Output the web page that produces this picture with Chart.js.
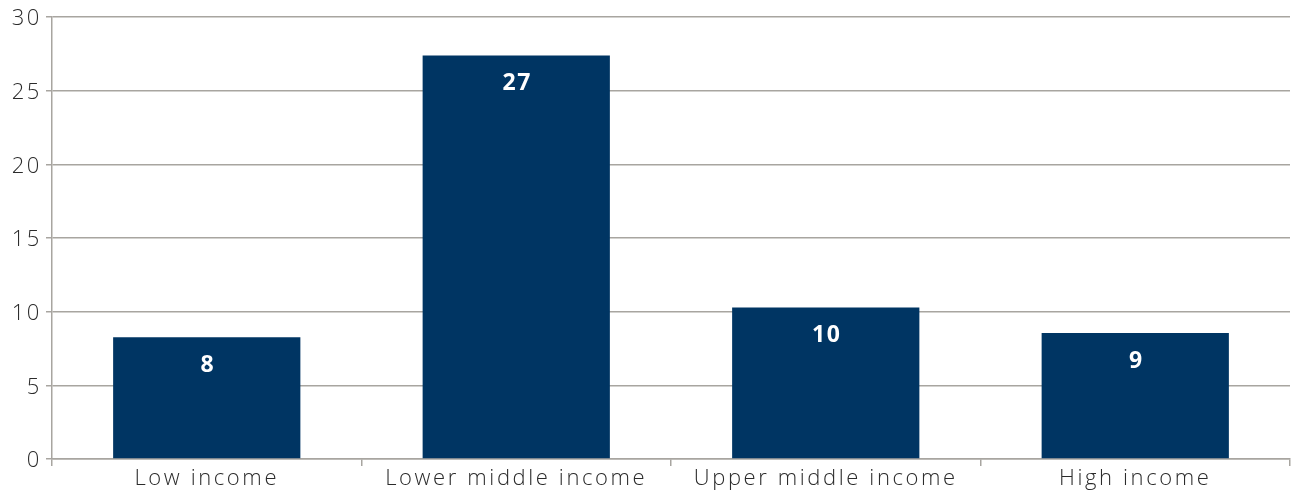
<!DOCTYPE html>
<html><head><meta charset="utf-8">
<script src="https://cdn.jsdelivr.net/npm/chart.js@4"></script>
<style>html,body{margin:0;padding:0;background:#fff}#wrap{width:1292px;height:490px}</style>
</head><body><div id="wrap"><canvas id="c" width="1292" height="490"></canvas></div>
<script>
const categories = ["Low income", "Lower middle income", "Upper middle income", "High income"];
const values = [8.26, 27.4, 10.29, 8.55];
const labels = ["8", "27", "10", "9"];
const yTicks = [0, 5, 10, 15, 20, 25, 30];

const gridColor = '#a8a5a0';
const spacing = {
  id: 'spacing',
  beforeDraw(chart) { chart.ctx.letterSpacing = '2.6px'; },
  afterDraw(chart) { chart.ctx.letterSpacing = '0px'; }
};
const barLabels = {
  id: 'barLabels',
  afterDatasetsDraw(chart) {
    const ctx = chart.ctx;
    const meta = chart.getDatasetMeta(0);
    ctx.save();
    ctx.letterSpacing = '1.5px';
    ctx.fillStyle = '#ffffff';
    ctx.font = 'bold 23px "Open Sans", sans-serif';
    ctx.textAlign = 'center';
    ctx.textBaseline = 'middle';
    meta.data.forEach((bar, i) => {
      ctx.fillText(labels[i], bar.x + 1, bar.y + 28);
    });
    ctx.restore();
  }
};

new Chart(document.getElementById('c'), {
  type: 'bar',
  data: {
    labels: categories,
    datasets: [{
      data: values,
      backgroundColor: '#003563',
      borderWidth: 0,
      categoryPercentage: 1,
      barPercentage: 0.605
    }]
  },
  options: {
    responsive: false,
    animation: false,
    layout: { padding: { top: 15, right: 2, left: 0, bottom: 0 } },
    plugins: { legend: { display: false }, tooltip: { enabled: false } },
    scales: {
      x: {
        offset: true,
        grid: { offset: true, drawOnChartArea: false, drawTicks: true, tickLength: 7, color: gridColor, lineWidth: 1.5 },
        border: { color: gridColor, width: 1.5 },
        ticks: { color: '#2b2b2b', font: { family: '"Open Sans", sans-serif', size: 22, weight: '300' }, padding: 0, maxRotation: 0 },
        afterFit(s) { s.height = 31; }
      },
      y: {
        min: 0, max: 30,
        afterBuildTicks(s) { s.ticks = yTicks.map(v => ({ value: v })); },
        grid: { color: gridColor, lineWidth: 1.5, tickLength: 6 },
        border: { color: gridColor, width: 1.5 },
        ticks: { color: '#2b2b2b', font: { family: '"Open Sans", sans-serif', size: 22, weight: '300' }, padding: 4, labelOffset: 2 },
        afterFit(s) { s.width = 52; }
      }
    }
  },
  plugins: [spacing, barLabels]
});
</script></body></html>
